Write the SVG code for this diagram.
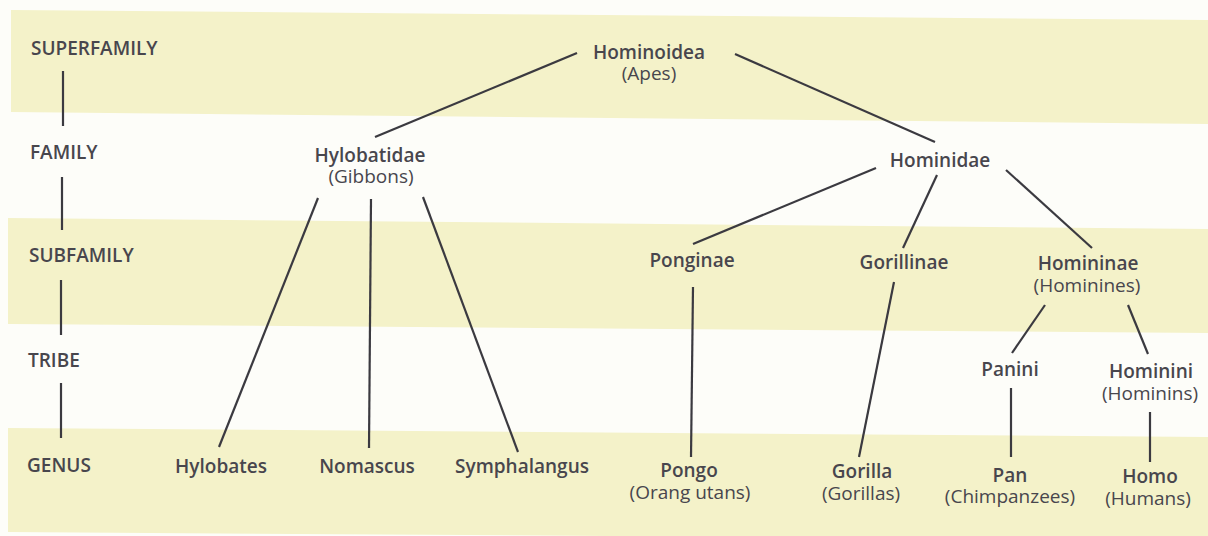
<svg xmlns="http://www.w3.org/2000/svg" width="1208" height="536" viewBox="0 0 1208 536">
<style>
.band{fill:#f4f2c9}
.b{font-family:"Open Sans","Noto Sans","Liberation Sans",sans-serif;font-size:19px;font-weight:600;fill:#48464d}
.r{font-family:"Open Sans","Noto Sans","Liberation Sans",sans-serif;font-size:19px;font-weight:400;fill:#48464d}
.m{text-anchor:middle}
.ln{stroke:#3b3a40;stroke-width:2.2;fill:none;stroke-linecap:butt}
</style>
<rect x="0" y="0" width="1208" height="536" fill="#fdfdf9"/>
<g id="bands">
<polygon class="band" points="11,10 1208,20 1208,124 11,112"/>
<polygon class="band" points="8,218 1208,229 1208,333 8,324"/>
<polygon class="band" points="8,428 1208,437 1208,540 8,532"/>
</g>
<g id="ranks">
<text class="b" x="31" y="55">SUPERFAMILY</text>
<text class="b" x="30" y="159">FAMILY</text>
<text class="b" x="29" y="262">SUBFAMILY</text>
<text class="b" x="28" y="367">TRIBE</text>
<text class="b" x="27" y="472">GENUS</text>
</g>
<g id="connectors">
<line class="ln" x1="63" y1="71" x2="63" y2="126"/>
<line class="ln" x1="62" y1="177" x2="62" y2="230"/>
<line class="ln" x1="61" y1="280" x2="61" y2="335"/>
<line class="ln" x1="61" y1="383" x2="61" y2="438"/>
<line class="ln" x1="577" y1="53" x2="375" y2="137"/>
<line class="ln" x1="735" y1="54" x2="935" y2="142"/>
<line class="ln" x1="318" y1="198" x2="219" y2="447"/>
<line class="ln" x1="371" y1="199" x2="369" y2="448"/>
<line class="ln" x1="423" y1="197" x2="518" y2="452"/>
<line class="ln" x1="876" y1="168" x2="693" y2="244"/>
<line class="ln" x1="937" y1="175" x2="903" y2="248"/>
<line class="ln" x1="1006" y1="170" x2="1092" y2="248"/>
<line class="ln" x1="693" y1="287" x2="691" y2="457"/>
<line class="ln" x1="894" y1="282" x2="859" y2="457"/>
<line class="ln" x1="1045" y1="305" x2="1012" y2="353"/>
<line class="ln" x1="1128" y1="305" x2="1148" y2="354"/>
<line class="ln" x1="1011" y1="388" x2="1011" y2="457"/>
<line class="ln" x1="1150" y1="412" x2="1150" y2="462"/>
</g>
<g id="hominoidea"><text class="b m" x="649" y="59">Hominoidea</text><text class="r m" x="649" y="80">(Apes)</text></g>
<g id="hylobatidae"><text class="b m" x="370" y="162">Hylobatidae</text><text class="r m" x="371" y="183">(Gibbons)</text></g>
<g id="hominidae"><text class="b m" x="940" y="167">Hominidae</text></g>
<g id="ponginae"><text class="b m" x="692" y="267">Ponginae</text></g>
<g id="gorillinae"><text class="b m" x="904" y="269">Gorillinae</text></g>
<g id="homininae"><text class="b m" x="1088" y="270">Homininae</text><text class="r m" x="1087" y="292">(Hominines)</text></g>
<g id="panini"><text class="b m" x="1010" y="376">Panini</text></g>
<g id="hominini"><text class="b m" x="1151" y="378">Hominini</text><text class="r m" x="1150" y="400">(Hominins)</text></g>
<g id="hylobates"><text class="b m" x="221" y="473">Hylobates</text></g>
<g id="nomascus"><text class="b m" x="367" y="473">Nomascus</text></g>
<g id="symphalangus"><text class="b m" x="522" y="473">Symphalangus</text></g>
<g id="pongo"><text class="b m" x="689" y="477">Pongo</text><text class="r m" x="690" y="499">(Orang utans)</text></g>
<g id="gorilla"><text class="b m" x="862" y="478">Gorilla</text><text class="r m" x="861" y="500">(Gorillas)</text></g>
<g id="pan"><text class="b m" x="1010" y="482">Pan</text><text class="r m" x="1010" y="503">(Chimpanzees)</text></g>
<g id="homo"><text class="b m" x="1150" y="483">Homo</text><text class="r m" x="1148" y="505">(Humans)</text></g>
</svg>
